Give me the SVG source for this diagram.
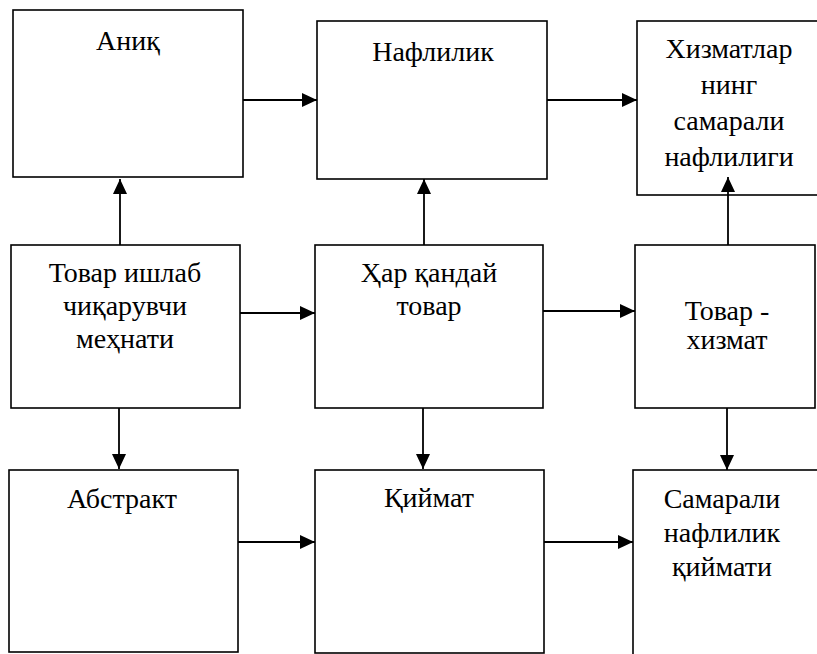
<svg xmlns="http://www.w3.org/2000/svg" width="817" height="654" viewBox="0 0 817 654">
<defs>
<marker id="ah" markerUnits="userSpaceOnUse" markerWidth="15" markerHeight="14" refX="15" refY="7" orient="auto">
<path d="M0,0 L15,7 L0,14 z" fill="#000"/>
</marker>
</defs>
<rect width="817" height="654" fill="#fff"/>
<g fill="#fff" stroke="#000" stroke-width="1.6">
<g id="n1"><rect x="13" y="10" width="230" height="167"/></g>
<g id="n2"><rect x="317" y="21" width="230" height="158"/></g>
<g id="n3"><rect x="637" y="21" width="200" height="174"/></g>
<g id="n4"><rect x="11" y="245" width="229" height="163"/></g>
<g id="n5"><rect x="315" y="245" width="228" height="163"/></g>
<g id="n6"><rect x="635" y="245" width="180" height="163"/></g>
<g id="n7"><rect x="9" y="470" width="229" height="182"/></g>
<g id="n8"><rect x="315" y="470" width="229" height="183"/></g>
<g id="n9"><rect x="633" y="470" width="200" height="200"/></g>
</g>
<g id="labels" font-family="Liberation Serif" font-size="28" fill="#000" text-anchor="middle">
<text x="128" y="50">Аниқ</text>
<text x="433" y="61">Нафлилик</text>
<text x="729" y="58">Хизматлар</text>
<text x="729" y="94">нинг</text>
<text x="729" y="130">самарали</text>
<text x="729" y="166">нафлилиги</text>
<text x="125" y="282">Товар ишлаб</text>
<text x="125" y="315">чиқарувчи</text>
<text x="125" y="348">меҳнати</text>
<text x="429" y="282">Ҳар қандай</text>
<text x="429" y="315">товар</text>
<text x="727" y="320">Товар -</text>
<text x="727" y="349">хизмат</text>
<text x="122" y="508">Абстракт</text>
<text x="429" y="507">Қиймат</text>
<text x="722" y="508">Самарали</text>
<text x="722" y="542">нафлилик</text>
<text x="722" y="576">қиймати</text>
</g>
<g id="connectors" stroke="#000" stroke-width="1.8" fill="none" marker-end="url(#ah)">
<line x1="243" y1="100" x2="317" y2="100"/>
<line x1="547" y1="100" x2="637" y2="100"/>
<line x1="120" y1="245" x2="120" y2="179"/>
<line x1="424" y1="245" x2="424" y2="179"/>
<line x1="728" y1="245" x2="728" y2="177"/>
<line x1="240" y1="313" x2="315" y2="313"/>
<line x1="543" y1="311" x2="635" y2="311"/>
<line x1="119" y1="408" x2="119" y2="469"/>
<line x1="423" y1="408" x2="423" y2="469"/>
<line x1="727" y1="408" x2="727" y2="470"/>
<line x1="238" y1="542" x2="315" y2="542"/>
<line x1="544" y1="542" x2="633" y2="542"/>
</g>
</svg>
